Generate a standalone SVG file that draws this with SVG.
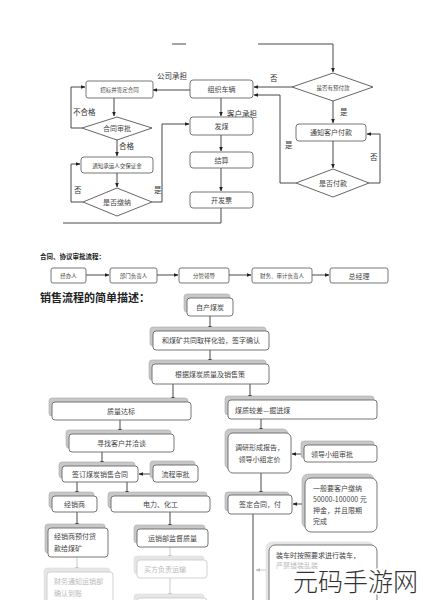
<svg xmlns="http://www.w3.org/2000/svg" width="423" height="600" viewBox="0 0 423 600">
<defs>
<marker id="ar" viewBox="0 0 6 6" refX="5.5" refY="3" markerWidth="5" markerHeight="5" orient="auto"><path d="M0,0.5 L6,3 L0,5.5 z" fill="#222"/></marker>
<marker id="arf" viewBox="0 0 6 6" refX="5.5" refY="3" markerWidth="5" markerHeight="5" orient="auto"><path d="M0,0.5 L6,3 L0,5.5 z" fill="#bbb"/></marker>
</defs>
<style>
text{font-family:"Noto Sans CJK SC","Liberation Serif",sans-serif;fill:#444;}
.b{fill:#fff;stroke:#666;stroke-width:0.9;}
.d{fill:#fff;stroke:#555;stroke-width:0.9;}
.s{fill:#c8c8c8;stroke:#aaa;stroke-width:0.6;}
.c{stroke:#333;stroke-width:0.9;fill:none;}
.cf{stroke:#c4c4c4;stroke-width:0.9;fill:none;}
.t6{font-size:5.5px;text-anchor:middle;}
.t7{font-size:7px;text-anchor:middle;}
.t7l{font-size:7px;}
.lb{font-size:7.5px;fill:#333;}
.fb{fill:#fff;stroke:#ccc;stroke-width:0.9;}
.fs{fill:#e6e6e6;stroke:#ddd;stroke-width:0.6;}
.ft{fill:#bbb;}
</style>
<rect width="423" height="600" fill="#fff"/>

<g id="connectors">
<line x1="172" y1="44" x2="186" y2="44" class="c"/>
<polyline points="258,44 333,44 333,72" class="c" marker-end="url(#ar)"/>
<line x1="292" y1="87" x2="254" y2="87" class="c" marker-end="url(#ar)"/>
<line x1="190" y1="90" x2="153" y2="90" class="c" marker-end="url(#ar)"/>
<line x1="114" y1="98" x2="114" y2="116" class="c" marker-end="url(#ar)"/>
<polyline points="82,128 71,128 71,87 85,87" class="c" marker-end="url(#ar)"/>
<line x1="117" y1="140" x2="117" y2="156" class="c" marker-end="url(#ar)"/>
<line x1="117" y1="173" x2="117" y2="187" class="c" marker-end="url(#ar)"/>
<polyline points="83,202 71,202 71,164 80,164" class="c" marker-end="url(#ar)"/>
<polyline points="152,202 162,202 162,124 189,124" class="c" marker-end="url(#ar)"/>
<line x1="221" y1="98" x2="221" y2="116" class="c" marker-end="url(#ar)"/>
<line x1="221" y1="135" x2="221" y2="151" class="c" marker-end="url(#ar)"/>
<line x1="221" y1="168" x2="221" y2="191" class="c" marker-end="url(#ar)"/>
<polyline points="221,208 221,223 63,223" class="c"/>
<polyline points="296,183 280,183 280,95 254,95" class="c" marker-end="url(#ar)"/>
<line x1="333" y1="101" x2="333" y2="123" class="c" marker-end="url(#ar)"/>
<line x1="333" y1="141" x2="333" y2="168" class="c" marker-end="url(#ar)"/>
<polyline points="369,183 380,183 380,134 367,134" class="c" marker-end="url(#ar)"/>

<line x1="86" y1="275" x2="109" y2="275" class="c" marker-end="url(#ar)"/>
<line x1="157" y1="275" x2="178" y2="275" class="c" marker-end="url(#ar)"/>
<line x1="229" y1="275" x2="251" y2="275" class="c" marker-end="url(#ar)"/>
<line x1="312" y1="275" x2="329" y2="275" class="c" marker-end="url(#ar)"/>

<line x1="210" y1="316" x2="210" y2="330" class="c" marker-end="url(#ar)"/>
<line x1="210" y1="350" x2="210" y2="363" class="c" marker-end="url(#ar)"/>
<line x1="173" y1="384" x2="173" y2="401" class="c" marker-end="url(#ar)"/>
<line x1="250" y1="384" x2="250" y2="399" class="c" marker-end="url(#ar)"/>
<line x1="120" y1="420" x2="120" y2="433" class="c" marker-end="url(#ar)"/>
<line x1="102" y1="452" x2="102" y2="465" class="c" marker-end="url(#ar)"/>
<line x1="153" y1="474" x2="139" y2="474" class="c" marker-end="url(#ar)"/>
<line x1="77" y1="482" x2="77" y2="495" class="c" marker-end="url(#ar)"/>
<line x1="127" y1="482" x2="127" y2="495" class="c" marker-end="url(#ar)"/>
<line x1="77" y1="512" x2="77" y2="527" class="c" marker-end="url(#ar)"/>
<line x1="170" y1="512" x2="170" y2="528" class="c" marker-end="url(#ar)"/>
<line x1="77" y1="557" x2="77" y2="571" class="cf" marker-end="url(#arf)"/>
<line x1="170" y1="547" x2="170" y2="559" class="cf" marker-end="url(#arf)"/>
<line x1="170" y1="578" x2="170" y2="597" class="cf" marker-end="url(#arf)"/>
<line x1="261" y1="419" x2="261" y2="432" class="c" marker-end="url(#ar)"/>
<line x1="304" y1="454" x2="292" y2="454" class="c" marker-end="url(#ar)"/>
<line x1="261" y1="473" x2="261" y2="495" class="c" marker-end="url(#ar)"/>
<line x1="305" y1="504" x2="293" y2="504" class="c" marker-end="url(#ar)"/>
<line x1="253" y1="514" x2="253" y2="600" class="c" stroke="#888"/>
<line x1="270" y1="570" x2="256" y2="570" class="cf" marker-end="url(#arf)"/>
</g>

<g id="labels">
<text x="157" y="79" class="lb">公司承担</text>
<text x="270" y="81" class="lb">否</text>
<text x="73" y="115" class="lb">不合格</text>
<text x="119" y="149" class="lb">合格</text>
<text x="74" y="193" class="lb">否</text>
<text x="154" y="193" class="lb">是</text>
<text x="227" y="117" class="lb">客户承担</text>
<text x="340" y="115" class="lb">是</text>
<text x="285" y="148" class="lb">是</text>
<text x="370" y="160" class="lb">否</text>
<text x="40" y="259" style="font-size:6.5px;font-weight:bold;fill:#222">合同、协议审批流程：</text>
<text x="40" y="302" style="font-size:11px;font-weight:bold;fill:#222">销售流程的简单描述：</text>
</g>

<g id="n-zhaobiao"><rect x="86" y="81" width="67" height="17" rx="2" class="b"/><text x="119.5" y="92" class="t6">招标并签定合同</text></g>
<g id="n-zuzhi"><rect x="190" y="80" width="63" height="18" rx="3" class="b"/><text x="221.5" y="92" class="t7">组织车辆</text></g>
<g id="n-yufu"><polygon points="292,87 333,73 373,87 333,101" class="d"/><text x="333" y="89.5" class="t6">是否有预付款</text></g>
<g id="n-shenpi"><polygon points="82,128 117,117 152,128 117,140" class="d"/><text x="117" y="130.5" class="t7">合同审批</text></g>
<g id="n-tongzhi"><rect x="81" y="157" width="72" height="16" rx="3" class="b"/><text x="117" y="167.5" class="t6">通知承运人交保证金</text></g>
<g id="n-jiaona"><polygon points="83,202 117,188 152,202 117,216" class="d"/><text x="117" y="204.5" class="t7">是否缴纳</text></g>
<g id="n-famei"><rect x="190" y="117" width="63" height="18" rx="3" class="b"/><text x="221.5" y="129" class="t7">发煤</text></g>
<g id="n-jiesuan"><rect x="190" y="152" width="63" height="16" rx="3" class="b"/><text x="221.5" y="163" class="t7">结算</text></g>
<g id="n-kaifapiao"><rect x="190" y="192" width="63" height="16" rx="3" class="b"/><text x="221.5" y="203" class="t7">开发票</text></g>
<g id="n-tzfk"><rect x="296" y="124" width="70" height="17" rx="3" class="b"/><text x="331" y="135" class="t7">通知客户付款</text></g>
<g id="n-fukuan"><polygon points="296,183 333,169 369,183 333,197" class="d"/><text x="333" y="185.5" class="t7">是否付款</text></g>

<g id="n-jbr"><rect x="51" y="268" width="35" height="15" rx="2" class="b"/><text x="68.5" y="278" class="t6">经办人</text></g>
<g id="n-bmfzr"><rect x="110" y="268" width="47" height="15" rx="2" class="b"/><text x="133.5" y="278" class="t6">部门负责人</text></g>
<g id="n-fgld"><rect x="179" y="268" width="50" height="15" rx="2" class="b"/><text x="204" y="278" class="t6">分管领导</text></g>
<g id="n-cwsj"><rect x="252" y="268" width="60" height="15" rx="2" class="b"/><text x="282" y="278" class="t6">财务、审计负责人</text></g>
<g id="n-zjl"><rect x="330" y="268" width="58" height="15" rx="2" class="b"/><text x="359" y="278.5" class="t7">总经理</text></g>

<g id="n-zichan"><rect x="184" y="294" width="46" height="18" rx="3" class="s"/><rect x="187" y="298" width="46" height="18" rx="3" class="b"/><text x="210" y="310" class="t7">自产煤炭</text></g>
<g id="n-quyang"><rect x="150" y="327" width="116" height="19" rx="3" class="s"/><rect x="153" y="331" width="116" height="19" rx="3" class="b"/><text x="211" y="343" class="t7">和煤矿共同取样化验，签字确认</text></g>
<g id="n-genju"><rect x="149" y="360" width="117" height="20" rx="3" class="s"/><rect x="152" y="364" width="117" height="20" rx="3" class="b"/><text x="210" y="377" class="t7">根据煤炭质量及销售策</text></g>
<g id="n-dabiao"><rect x="49" y="398" width="139" height="18" rx="3" class="s"/><rect x="52" y="402" width="139" height="18" rx="3" class="b"/><text x="121" y="414" class="t7">质量达标</text></g>
<g id="n-jiaocha"><rect x="225" y="396" width="149" height="19" rx="3" class="s"/><rect x="228" y="400" width="149" height="19" rx="3" class="b"/><text x="235" y="412.5" class="t7l">煤质较差—掘进煤</text></g>
<g id="n-xunzhao"><rect x="66" y="430" width="105" height="18" rx="3" class="s"/><rect x="69" y="434" width="105" height="18" rx="3" class="b"/><text x="121.5" y="446" class="t7">寻找客户并洽谈</text></g>
<g id="n-qianding"><rect x="59" y="462" width="76" height="16" rx="3" class="s"/><rect x="62" y="466" width="76" height="16" rx="3" class="b"/><text x="100" y="477" class="t7">签订煤炭销售合同</text></g>
<g id="n-liucheng"><rect x="150" y="461" width="45" height="17" rx="3" class="s"/><rect x="153" y="465" width="45" height="17" rx="3" class="b"/><text x="175.5" y="476.5" class="t7">流程审批</text></g>
<g id="n-jxs"><rect x="49" y="492" width="45" height="16" rx="3" class="s"/><rect x="52" y="496" width="45" height="16" rx="3" class="b"/><text x="74.5" y="507" class="t7">经销商</text></g>
<g id="n-dianli"><rect x="108" y="492" width="99" height="16" rx="3" class="s"/><rect x="111" y="496" width="99" height="16" rx="3" class="b"/><text x="160.5" y="507" class="t7">电力、化工</text></g>
<g id="n-yufuhk"><rect x="45" y="524" width="60" height="29" rx="3" class="s"/><rect x="48" y="528" width="60" height="29" rx="3" class="b"/><text x="54" y="539" class="t7l">经销商预付货</text><text x="54" y="551" class="t7l">款给煤矿</text></g>
<g id="n-yunxiao"><rect x="134" y="525" width="71" height="18" rx="3" class="s"/><rect x="137" y="529" width="71" height="18" rx="3" class="b"/><text x="172.5" y="541" class="t7">运销部监督质量</text></g>
<g id="n-maifang"><rect x="134" y="556" width="70" height="18" rx="3" class="fs"/><rect x="137" y="560" width="70" height="18" rx="3" class="fb"/><text x="144" y="572" class="t7l ft">买方负责运输</text></g>
<g id="n-caiwu"><rect x="44" y="568" width="66" height="36" rx="3" class="fs"/><rect x="47" y="572" width="66" height="36" rx="3" class="fb"/><text x="54" y="584" class="t7l ft">财务通知运销部</text><text x="54" y="596" class="t7l ft">确认到账</text></g>
<g id="n-bottom"><rect x="134" y="594" width="70" height="10" rx="3" class="fs"/><rect x="137" y="598" width="70" height="10" rx="3" class="fb"/></g>
<g id="n-diaoyan"><rect x="225" y="429" width="63" height="40" rx="5" class="s"/><rect x="228" y="433" width="63" height="40" rx="5" class="b"/><text x="259.5" y="450" class="t7">调研形成报告，</text><text x="259.5" y="462" class="t7">领导小组定价</text></g>
<g id="n-ldxz"><rect x="301" y="441" width="73" height="17" rx="3" class="s"/><rect x="304" y="445" width="73" height="17" rx="3" class="b"/><text x="311" y="456.5" class="t7l">领导小组审批</text></g>
<g id="n-yajin"><rect x="302" y="474" width="72" height="54" rx="6" class="s"/><rect x="305" y="478" width="72" height="54" rx="6" class="b"/><text x="313" y="491" class="t7l">一般要客户缴纳</text><text x="313" y="502" class="t7l">50000-100000 元</text><text x="313" y="513" class="t7l">押金，并且限期</text><text x="313" y="524" class="t7l">完成</text></g>
<g id="n-qdht"><rect x="225" y="492" width="64" height="19" rx="3" class="s"/><rect x="228" y="495" width="64" height="19" rx="3" class="b"/><text x="260" y="507" class="t7">签定合同，付</text></g>
<g id="n-zhuangche"><rect x="266" y="542" width="108" height="64" rx="6" class="fs"/><rect x="269" y="545" width="108" height="64" rx="6" class="b"/><text x="276" y="558" class="t7l">装车时按照要求进行装车，</text><text x="276" y="568" class="t7l ft">严禁错装乱装</text></g>

<text x="293" y="591" style="font-size:25px;fill:#333;stroke:#fff;stroke-width:3px;paint-order:stroke;font-family:'Noto Sans CJK SC',sans-serif;font-weight:300">元码手游网</text>
</svg>
